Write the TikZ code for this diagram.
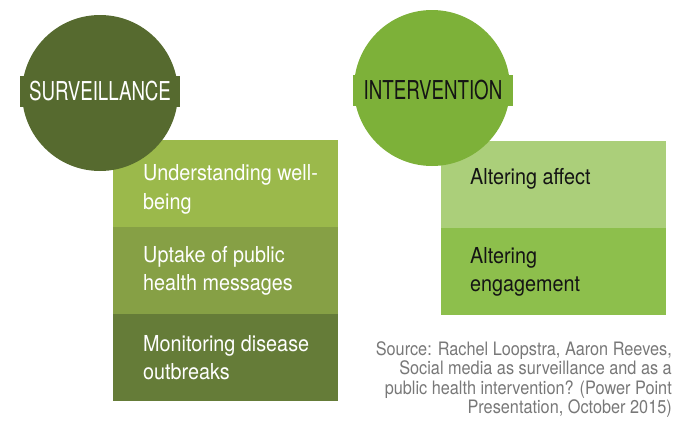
\documentclass[tikz,border=0pt]{standalone}
\usepackage{fontspec}
\setmainfont[FakeStretch=0.9]{TeX Gyre Heros}
\newfontfamily\hdfont[FakeStretch=0.72]{TeX Gyre Heros}
\newfontfamily\srcfont[FakeStretch=0.88]{TeX Gyre Heros}
\usetikzlibrary{positioning}
\definecolor{survclr}{RGB}{86,106,47}
\definecolor{surv1}{RGB}{155,185,75}
\definecolor{surv2}{RGB}{134,160,69}
\definecolor{surv3}{RGB}{101,124,56}
\definecolor{intvclr}{RGB}{125,177,57}
\definecolor{intv1}{RGB}{171,207,122}
\definecolor{intv2}{RGB}{141,191,76}
\definecolor{darktxt}{RGB}{20,20,20}
\definecolor{srcclr}{RGB}{120,120,120}
\tikzset{
  cblk/.style={rectangle,draw=none,fill=#1,minimum width=225pt,
    minimum height=86.7pt,inner sep=0pt},
  hcirc/.style={circle,draw=none,fill=#1,minimum size=156pt,inner sep=0pt},
  hband/.style={rectangle,draw=none,fill=#1,minimum width=160pt,
    minimum height=31pt,inner sep=0pt,font=\hdfont\fontsize{26}{28}\selectfont},
  itxt/.style={align=left,inner sep=0pt,font=\fontsize{22}{28.5}\selectfont},
  srcnote/.style={align=right,inner sep=0pt,text=srcclr,
    font=\srcfont\fontsize{18.5}{19.5}\selectfont},
}
\begin{document}
\begin{tikzpicture}[x=1pt,y=-1pt,node distance=0pt]
  \useasboundingbox (0,0) rectangle (673,423);

  % surveillance column
  \node[cblk=surv1,anchor=north west] (s1) at (113,140) {};
  \node[cblk=surv2,below=of s1] (s2) {};
  \node[cblk=surv3,below=of s2] (s3) {};
  \node[itxt,text=white,right=30pt of s1.west,yshift=-6pt] (s1t) {Understanding well-\\being};
  \node[itxt,text=white,right=30pt of s2.west] (s2t) {Uptake of public\\health messages};
  \node[itxt,text=white,right=30pt of s3.west] (s3t) {Monitoring disease\\outbreaks};
  \node[hcirc=survclr] (surv) at (100,93) {};
  \node[hband=survclr,text=white] (survlbl) at (100,91.5) {SURVEILLANCE};

  % intervention column
  \node[cblk=intv1,anchor=north west] (i1) at (441,141) {};
  \node[cblk=intv2,below=of i1] (i2) {};
  \node[itxt,text=darktxt,right=29pt of i1.west,yshift=6pt] (i1t) {Altering affect};
  \node[itxt,text=darktxt,right=29pt of i2.west] (i2t) {Altering\\engagement};
  \node[hcirc=intvclr] (intv) at (432,88) {};
  \node[hband=intvclr,text=darktxt] (intvlbl) at (433,90.5) {INTERVENTION};

  \node[srcnote,anchor=north east] (src) at (672,341)
    {Source: Rachel Loopstra, Aaron Reeves,\\Social media as surveillance and as a\\public health intervention? (Power Point\\Presentation, October 2015)};
\end{tikzpicture}
\end{document}
